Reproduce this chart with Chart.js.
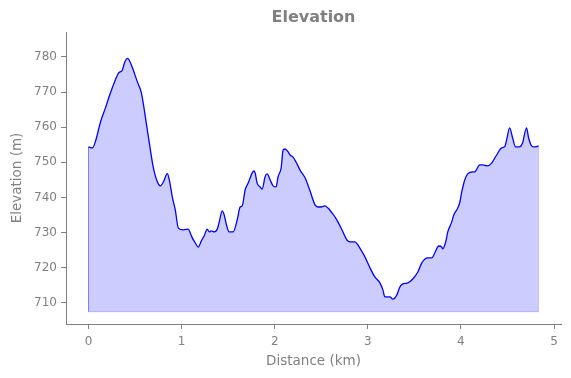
<!DOCTYPE html>
<html>
<head>
<meta charset="utf-8">
<script src="https://cdn.jsdelivr.net/npm/chart.js@4/dist/chart.umd.min.js"></script>
<style>
  html, body { margin: 0; padding: 0; background: #fff; }
  #wrap { width: 571px; height: 378px; }
</style>
</head>
<body>
<div id="wrap"><canvas id="elev"></canvas></div>
<script>
// elevation profile
const distanceKm = [
  0.000, 0.043, 0.075, 0.129, 0.182, 0.236, 0.289, 0.322, 0.364, 0.386,
  0.418, 0.439, 0.472, 0.525, 0.568, 0.611, 0.632, 0.665, 0.697, 0.740,
  0.772, 0.804, 0.847, 0.868, 0.900, 0.932, 0.965, 1.018, 1.072, 1.093,
  1.115, 1.147, 1.179, 1.211, 1.243, 1.275, 1.297, 1.318, 1.350, 1.383,
  1.404, 1.436, 1.458, 1.479, 1.511, 1.554, 1.597, 1.629, 1.651, 1.683,
  1.715, 1.758, 1.779, 1.790, 1.811, 1.844, 1.865, 1.897, 1.919, 1.951,
  1.983, 2.015, 2.036, 2.069, 2.090, 2.111, 2.144, 2.165, 2.197, 2.229,
  2.272, 2.326, 2.379, 2.433, 2.465, 2.497, 2.540, 2.572, 2.615, 2.647,
  2.680, 2.722, 2.776, 2.808, 2.862, 2.894, 2.915, 2.969, 3.023, 3.076,
  3.130, 3.162, 3.183, 3.237, 3.269, 3.312, 3.344, 3.376, 3.430, 3.483,
  3.537, 3.580, 3.644, 3.687, 3.719, 3.762, 3.794, 3.805, 3.837, 3.859,
  3.901, 3.923, 3.966, 3.987, 4.009, 4.041, 4.073, 4.127, 4.148, 4.202,
  4.234, 4.287, 4.330, 4.384, 4.437, 4.469, 4.491, 4.523, 4.555, 4.587,
  4.630, 4.662, 4.705, 4.727, 4.759, 4.791, 4.834
];
const elevationM = [
  754.4, 754.1, 756.0, 761.5, 765.5, 769.8, 773.5, 775.4, 776.3, 778.3,
  779.6, 779.0, 776.9, 772.9, 769.8, 762.9, 759.2, 753.5, 748.4, 744.4,
  743.3, 744.4, 746.8, 745.0, 740.2, 736.5, 731.3, 730.8, 731.0, 729.9,
  728.5, 727.1, 725.9, 727.6, 729.1, 731.0, 730.2, 730.5, 730.2, 731.0,
  733.0, 736.2, 735.0, 732.5, 730.2, 730.2, 733.6, 737.3, 737.6, 742.2,
  744.1, 747.0, 747.6, 747.0, 744.1, 743.0, 742.4, 745.9, 746.7, 745.0,
  743.3, 743.0, 745.9, 748.4, 753.5, 753.8, 753.0, 752.1, 751.5, 750.1,
  747.8, 745.6, 741.9, 737.9, 737.3, 737.3, 737.6, 737.0, 735.6, 734.5,
  733.0, 730.8, 727.9, 727.4, 727.4, 726.5, 725.6, 723.1, 720.0, 717.4,
  715.7, 713.7, 711.7, 711.7, 711.1, 712.3, 714.5, 715.4, 715.7, 716.8,
  718.8, 721.4, 722.8, 722.8, 724.2, 726.2, 725.9, 725.4, 727.4, 730.2,
  733.0, 735.0, 737.0, 738.5, 741.6, 745.0, 746.7, 747.3, 747.3, 749.3,
  749.3, 749.0, 749.8, 752.1, 754.1, 754.4, 756.4, 759.8, 757.0, 754.4,
  754.4, 755.5, 759.8, 757.0, 754.7, 754.4, 754.7
];
const fillBase = 707.5;
const xTicks = [0, 1, 2, 3, 4, 5];
const yTicks = [710, 720, 730, 740, 750, 760, 770, 780];

const grey = '#808080';
const font = 'DejaVu Sans';

const profile = distanceKm.map((d, i) => ({ x: d, y: elevationM[i] }));
const last = distanceKm.length - 1;
// edge of the filled polygon (left side, bottom, right side)
const outline = [
  { x: distanceKm[0], y: elevationM[0] },
  { x: distanceKm[0], y: fillBase },
  { x: distanceKm[last], y: fillBase },
  { x: distanceKm[last], y: elevationM[last] }
];

// title centred over the plot area, like matplotlib
const plotTitle = {
  id: 'plotTitle',
  afterDraw(chart) {
    const { ctx, chartArea } = chart;
    ctx.save();
    ctx.fillStyle = grey;
    ctx.font = 'bold 16px "' + font + '"';
    ctx.textAlign = 'center';
    ctx.textBaseline = 'middle';
    ctx.fillText('Elevation', (chartArea.left + chartArea.right) / 2, 18);
    ctx.restore();
  }
};

const ctx = document.getElementById('elev').getContext('2d');
const chart = new Chart(ctx, {
  type: 'line',
  data: {
    datasets: [{
      label: 'Elevation',
      data: profile,
      borderColor: '#0000ff',
      borderWidth: 1.3,
      backgroundColor: 'rgba(0,0,255,0.2)',
      fill: { value: fillBase },
      pointRadius: 0,
      cubicInterpolationMode: 'monotone'
    }, {
      label: 'edge',
      data: outline,
      borderColor: 'rgba(0,0,255,0.2)',
      borderWidth: 1,
      fill: false,
      pointRadius: 0,
      tension: 0
    }]
  },
  options: {
    responsive: true,
    maintainAspectRatio: false,
    animation: false,
    layout: { padding: { top: 32, right: 10, left: 0, bottom: 0 } },
    plugins: {
      legend: { display: false },
      tooltip: { enabled: false }
    },
    scales: {
      x: {
        type: 'linear',
        min: -0.2417,
        max: 5.075,
        afterBuildTicks: (axis) => { axis.ticks = xTicks.map(v => ({ value: v })); },
        afterFit: (axis) => { axis.height = 54; },
        grid: { display: true, drawOnChartArea: false, drawTicks: true, tickLength: 5, color: grey },
        border: { display: true, color: grey, width: 1 },
        ticks: { color: grey, font: { family: font, size: 12 }, padding: 6, maxRotation: 0 },
        title: { display: true, text: 'Distance (km)', color: grey, font: { family: font, size: 13.5 }, padding: { top: 2, bottom: 8 } }
      },
      y: {
        type: 'linear',
        min: 704,
        max: 787.1,
        afterBuildTicks: (axis) => { axis.ticks = yTicks.map(v => ({ value: v })); },
        afterFit: (axis) => { axis.width = 66; },
        grid: { display: true, drawOnChartArea: false, drawTicks: true, tickLength: 5, color: grey },
        border: { display: true, color: grey, width: 1 },
        ticks: { color: grey, font: { family: font, size: 12 }, padding: 4 },
        title: { display: true, text: 'Elevation (m)', color: grey, font: { family: font, size: 13.5 }, padding: { top: 9, bottom: 4 } }
      }
    }
  },
  plugins: [plotTitle]
});
</script>
</body>
</html>
